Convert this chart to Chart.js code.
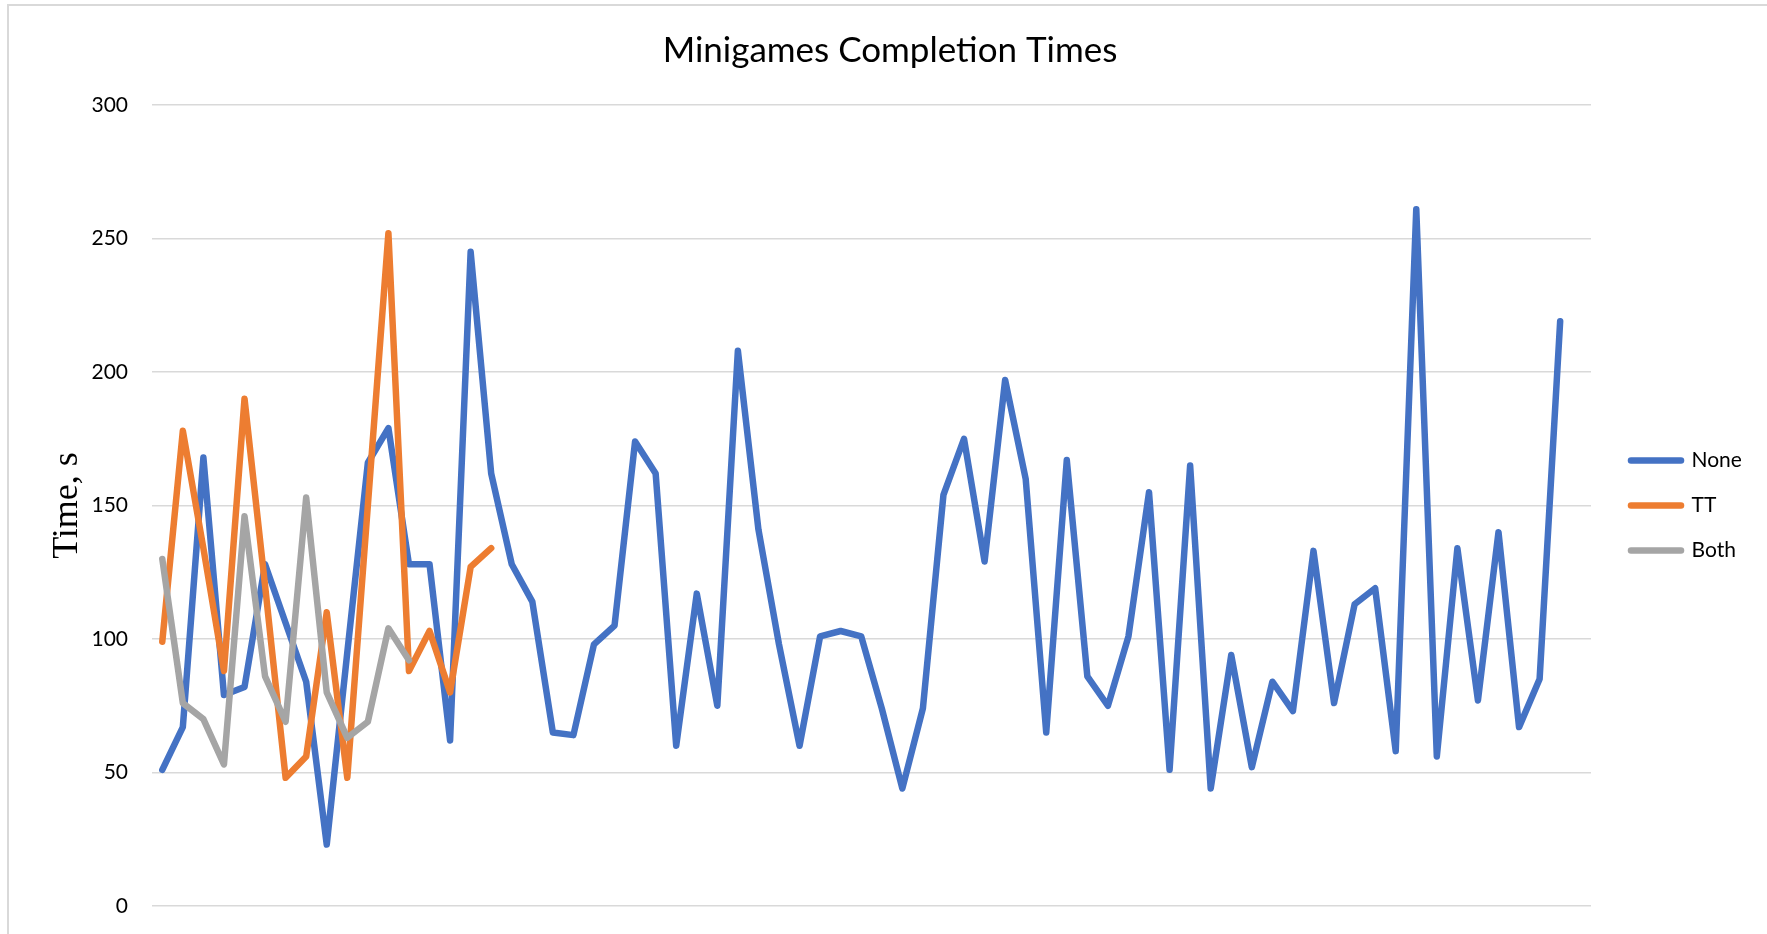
<!DOCTYPE html>
<html>
<head>
<meta charset="utf-8">
<script src="https://cdn.jsdelivr.net/npm/chart.js@4.4.1/dist/chart.umd.min.js"></script>
<style>
  html, body { margin: 0; padding: 0; background: #ffffff; width: 1767px; height: 934px; overflow: hidden; }
  #frame { position: absolute; left: 7px; top: 4px; width: 1820px; height: 1000px; border: 2px solid #d9d9d9; box-sizing: border-box; }
  #c { position: absolute; left: 0; top: 0; }
</style>
</head>
<body>
<div id="frame"></div>
<canvas id="c" width="1767" height="934"></canvas>
<script>
// ---------------- data ----------------
const categories = [1,2,3,4,5,6,7,8,9,10,11,12,13,14,15,16,17,18,19,20,
  21,22,23,24,25,26,27,28,29,30,31,32,33,34,35,36,37,38,39,40,
  41,42,43,44,45,46,47,48,49,50,51,52,53,54,55,56,57,58,59,60,
  61,62,63,64,65,66,67,68,69,70];

const seriesNames = ['None', 'TT', 'Both'];

const noneTimes = [51, 67, 168, 79, 82, 128, 106, 84, 23, 95,
  166, 179, 128, 128, 62, 245, 162, 128, 114, 65,
  64, 98, 105, 174, 162, 60, 117, 75, 208, 141,
  98, 60, 101, 103, 101, 74, 44, 74, 154, 175,
  129, 197, 160, 65, 167, 86, 75, 101, 155, 51,
  165, 44, 94, 52, 84, 73, 133, 76, 113, 119,
  58, 261, 56, 134, 77, 140, 67, 85, 219];

const ttTimes = [99, 178, 134, 88, 190, 120, 48, 56, 110, 48,
  150, 252, 88, 103, 80, 127, 134];

const bothTimes = [130, 76, 70, 53, 146, 86, 69, 153, 80, 63,
  69, 104, 92];

const yTickValues = [0, 50, 100, 150, 200, 250, 300];

const chartTitle = 'Minigames Completion Times';
const yAxisTitle = 'Time, s';

// ---------------- styling / layout ----------------
const seriesColors = ['#4472C4', '#ED7D31', '#A5A5A5'];
const W = 1767, H = 934;
const plotLeft = 152, plotRight = 1591, plotTop = 105, plotBottom = 906;
const titleCenterX = 890, titleMidY = 51;
const titleFont = { family: 'Lato', size: 35, weight: 'normal' };
const tickFont = { family: 'Lato', size: 21 };
const legendFont = { family: 'Lato', size: 21 };
const yTitleFont = { family: 'Liberation Serif', size: 36 };
const yTitleMidX = 68;
const legendPad = 24, legendLine = 50, legendGap = 16, lineW = 6.5;

const mctx = document.createElement('canvas').getContext('2d');
mctx.font = legendFont.size + 'px ' + legendFont.family;
const maxText = Math.max(...seriesNames.map(t => mctx.measureText(t).width));
const legendW = legendPad + legendLine + legendFont.size / 2 + maxText + 10;
let padR = W - plotRight - legendGap - legendW;
if (padR < 0) padR = 0;
const padL = padR + 2 * titleCenterX - W;
const yTitleLH = yTitleFont.size * 1.2;
const yTitlePadTop = Math.max(0, yTitleMidX - padL - yTitleLH / 2);
const titleLH = titleFont.size * 1.2;
const titlePadTop = titleMidY - titleLH / 2;
const titlePadBottom = plotTop - titlePadTop - titleLH;

const datasets = [noneTimes, ttTimes, bothTimes].map((vals, i) => ({
  label: seriesNames[i],
  data: vals,
  borderColor: seriesColors[i],
  backgroundColor: seriesColors[i],
  borderWidth: lineW,
  pointRadius: 0,
  pointHoverRadius: 0,
  pointBorderWidth: lineW,
  borderJoinStyle: 'round',
  borderCapStyle: 'round',
  tension: 0,
  fill: false,
  order: 3 - i
}));

new Chart(document.getElementById('c'), {
  type: 'line',
  data: { labels: categories, datasets: datasets },
  options: {
    responsive: false,
    devicePixelRatio: 1,
    animation: false,
    events: [],
    layout: { padding: { left: padL, right: padR, top: 0, bottom: H - plotBottom } },
    scales: {
      x: { type: 'category', display: false, offset: true },
      y: {
        type: 'linear', position: 'left', min: 0, max: 300,
        afterBuildTicks: s => { s.ticks = yTickValues.map(v => ({ value: v })); },
        ticks: { font: tickFont, color: '#000000', padding: 24 },
        grid: { color: '#d9d9d9', lineWidth: 1.5, drawTicks: false },
        border: { display: false },
        title: { display: true, text: yAxisTitle, font: yTitleFont, color: '#000000',
                 padding: { top: yTitlePadTop, bottom: 0 } },
        afterFit: s => { s.width = plotLeft - padL; s.paddingTop = 0; s.paddingBottom = 0; }
      },
      gap: {
        type: 'linear', position: 'right', display: true,
        grid: { display: false }, border: { display: false }, ticks: { display: false },
        afterFit: s => { s.width = legendGap; s.paddingTop = 0; s.paddingBottom = 0; }
      }
    },
    plugins: {
      tooltip: { enabled: false },
      title: {
        display: true, text: chartTitle, font: titleFont, color: '#000000',
        padding: { top: titlePadTop, bottom: titlePadBottom }
      },
      legend: {
        display: true, position: 'right', fullSize: false, align: 'center',
        labels: {
          usePointStyle: true, pointStyle: 'line', pointStyleWidth: legendLine,
          padding: legendPad, font: legendFont, color: '#000000',
          sort: (a, b) => a.datasetIndex - b.datasetIndex,
          generateLabels: chart => Chart.defaults.plugins.legend.labels.generateLabels(chart)
            .map(l => Object.assign(l, { lineCap: 'round', lineWidth: lineW, strokeStyle: seriesColors[l.datasetIndex] }))
        }
      }
    }
  }
});
</script>
</body>
</html>
